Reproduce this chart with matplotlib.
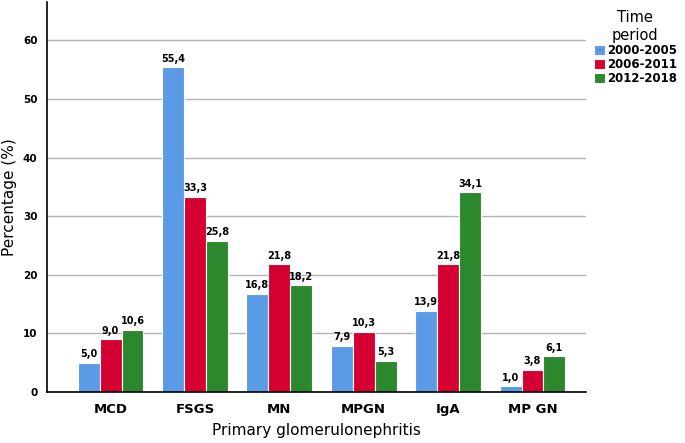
import numpy as np
import matplotlib.pyplot as plt

plt.rcParams['font.family'] = ['DejaVu Sans']

categories = ['MCD', 'FSGS', 'MN', 'MPGN', 'IgA', 'MP GN']
periods = ['2000-2005', '2006-2011', '2012-2018']
p2000 = [5.0, 55.4, 16.8, 7.9, 13.9, 1.0]
p2006 = [9.0, 33.3, 21.8, 10.3, 21.8, 3.8]
p2012 = [10.6, 25.8, 18.2, 5.3, 34.1, 6.1]
colors = ['#5b9be6', '#d50032', '#2c882c']

fig = plt.figure(figsize=(6.85, 4.43), dpi=100)
ax = fig.add_axes([0.069, 0.115, 0.786, 0.88])

x = np.arange(len(categories))
w = 0.26
for i, (vals, lab, c) in enumerate(zip([p2000, p2006, p2012], periods, colors)):
    pos = x + (i - 1) * w
    bars = ax.bar(pos, vals, w, color=c, edgecolor='white', linewidth=0.8, label=lab, zorder=2)
    for xp, v in zip(pos, vals):
        ax.text(xp, v + 0.6, f'{v:.1f}'.replace('.', ','), ha='center', va='bottom',
                fontsize=7, fontweight='bold')

ax.set_xlim(-0.75, 5.63)
ax.set_ylim(0, 66.5)
ax.set_yticks([0, 10, 20, 30, 40, 50, 60])
ax.yaxis.grid(True, color='#b4b4b4', linewidth=1, zorder=0)
ax.set_axisbelow(True)
ax.set_xticks(x)
ax.set_xticklabels(categories, fontsize=9.5, fontweight='bold')
ax.tick_params(axis='both', length=0)
ax.tick_params(axis='y', labelsize=7.5, pad=7)
for t in ax.get_yticklabels():
    t.set_fontweight('bold')
ax.tick_params(axis='x', pad=8)
ax.spines['top'].set_visible(False)
ax.spines['right'].set_visible(False)
ax.spines['left'].set_linewidth(1.2)
ax.spines['bottom'].set_linewidth(1.2)
ax.set_ylabel('Percentage (%)', fontsize=11, labelpad=4)
ax.set_xlabel('Primary glomerulonephritis', fontsize=11, labelpad=5)

leg = ax.legend(title='Time\nperiod', loc='upper left', bbox_to_anchor=(1.0, 1.0),
                frameon=False, fontsize=8.5, title_fontsize=10.5,
                handlelength=0.9, handleheight=0.9, handletextpad=0.2,
                labelspacing=0.1, borderaxespad=0.3)
for t in leg.get_texts():
    t.set_fontweight('bold')
leg.get_title().set_multialignment('center')

fig.savefig('out.png', dpi=100)
